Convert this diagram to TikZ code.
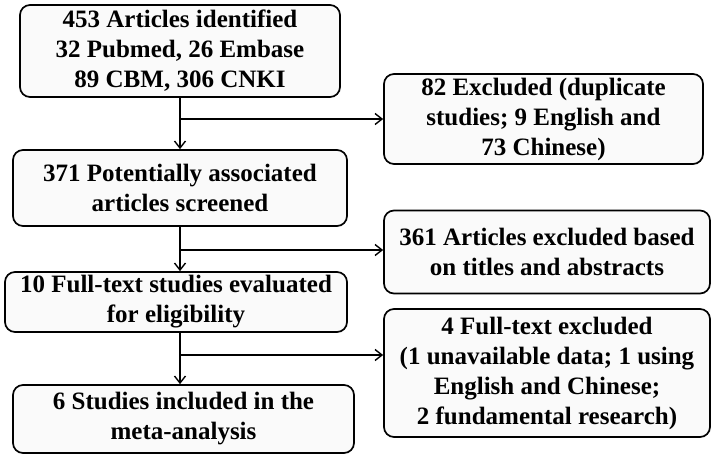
\documentclass[tikz,border=0pt]{standalone}
\usepackage{fontspec}
\setmainfont{Liberation Serif}
\usetikzlibrary{arrows.meta}
\begin{document}
\begin{tikzpicture}[x=1pt,y=-1pt,
  box/.style={draw=black, line width=1.7pt, rounded corners=10pt, fill=gray!4,
    inner sep=0pt, align=center, font=\fontsize{25}{30}\selectfont\bfseries},
  conn/.style={line width=1.4pt, -{Straight Barb[length=7pt,width=11pt,line width=1.4pt]}}]
\useasboundingbox (0,0) rectangle (716,459);
\node[box, minimum width=320pt, minimum height=92pt] (b1) at (180,51)
  {453 Articles identified\\32 Pubmed, 26 Embase\\89 CBM, 306 CNKI};
\node[box, minimum width=334pt, minimum height=76pt] (b2) at (180,188)
  {371 Potentially associated\\articles screened};
\node[box, minimum width=342pt, minimum height=60pt] (b3) at (176,302)
  {10 Full-text studies evaluated\\for eligibility};
\node[box, minimum width=341pt, minimum height=68pt] (b4) at (183.5,419)
  {6 Studies included in the\\meta-analysis};
\node[box, minimum width=319pt, minimum height=90pt] (r1) at (543.5,119)
  {82 Excluded (duplicate\\studies; 9 English and\\73 Chinese)};
\node[box, minimum width=326pt, minimum height=83pt] (r2) at (547,252)
  {361 Articles excluded based\\on titles and abstracts};
\node[box, minimum width=326pt, minimum height=128pt] (r3) at (547,373)
  {4 Full-text excluded\\(1 unavailable data; 1 using\\English and Chinese;\\2 fundamental research)};
\coordinate (j1) at (180,119);
\coordinate (j2) at (180,250);
\coordinate (j3) at (180,355);
\draw[conn] (b1.south) -- (b2.north);
\draw[conn] (b2.south) -- (b2.south |- b3.north);
\draw[conn] (b2.south |- b3.south) -- (b2.south |- b4.north);
\draw[conn] (j1) -- (j1 -| r1.west);
\draw[conn] (j2) -- (j2 -| r2.west);
\draw[conn] (j3) -- (j3 -| r3.west);
\end{tikzpicture}
\end{document}
